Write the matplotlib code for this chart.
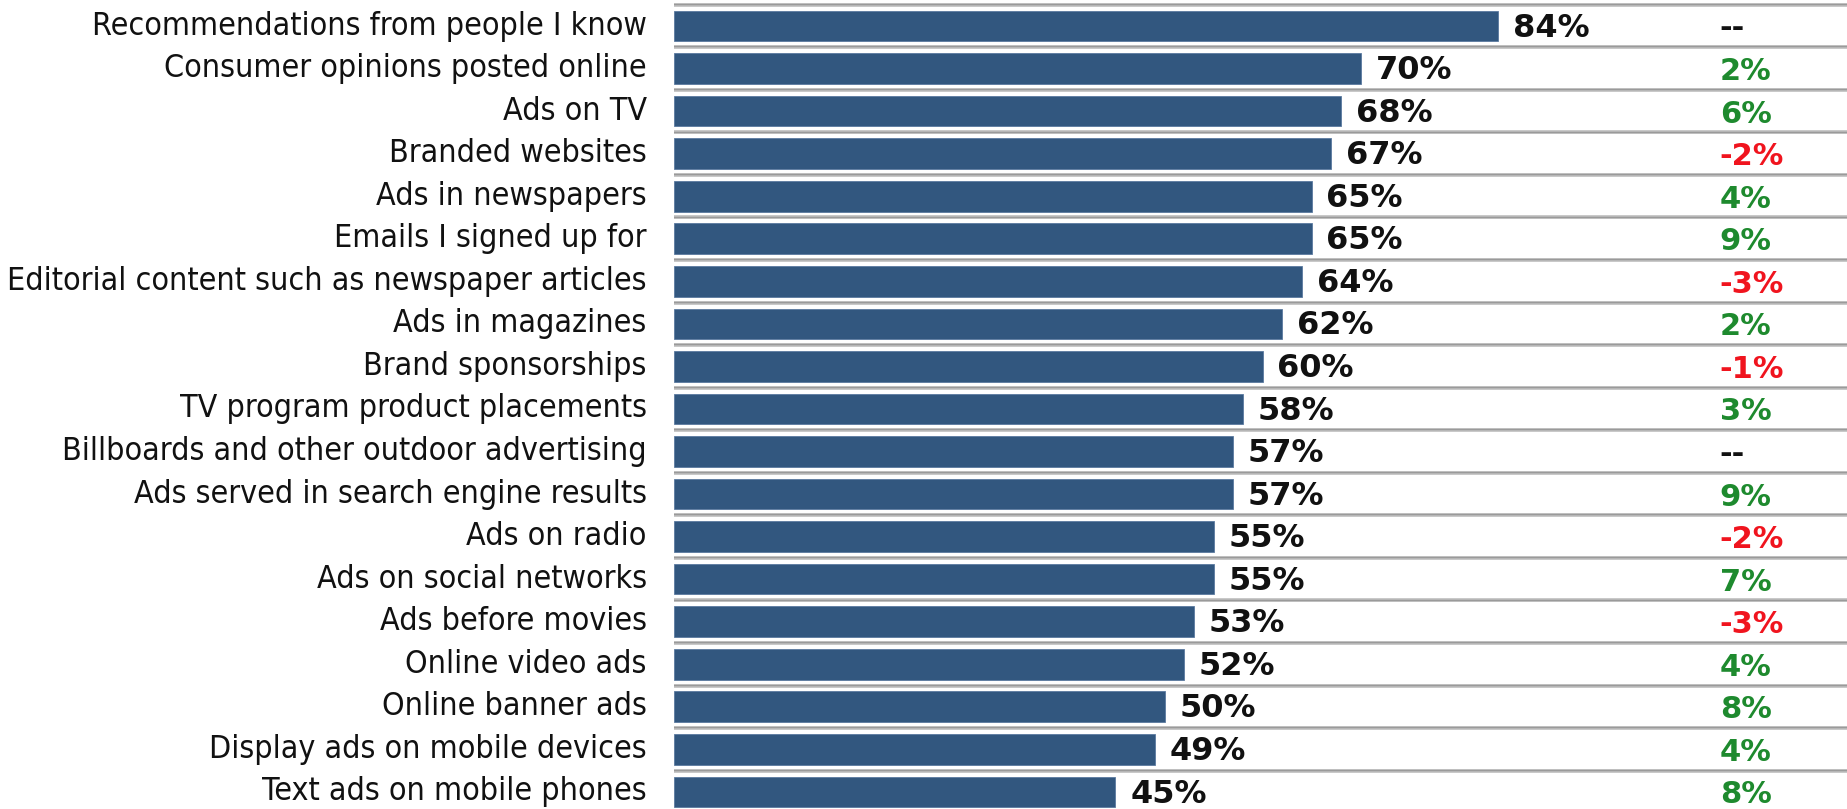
import matplotlib
matplotlib.use("Agg")
import matplotlib.pyplot as plt

categories = [
    "Recommendations from people I know",
    "Consumer opinions posted online",
    "Ads on TV",
    "Branded websites",
    "Ads in newspapers",
    "Emails I signed up for",
    "Editorial content such as newspaper articles",
    "Ads in magazines",
    "Brand sponsorships",
    "TV program product placements",
    "Billboards and other outdoor advertising",
    "Ads served in search engine results",
    "Ads on radio",
    "Ads on social networks",
    "Ads before movies",
    "Online video ads",
    "Online banner ads",
    "Display ads on mobile devices",
    "Text ads on mobile phones",
]
values = [84, 70, 68, 67, 65, 65, 64, 62, 60, 58, 57, 57, 55, 55, 53, 52, 50, 49, 45]
changes = [None, 2, 6, -2, 4, 9, -3, 2, -1, 3, None, 9, -2, 7, -3, 4, 8, 4, 8]

W, H = 1847, 809
fig = plt.figure(figsize=(W / 100, H / 100), dpi=100)
x0_px = 674
ax = fig.add_axes([x0_px / W, 0, 1 - x0_px / W, 1])
px_per_unit = 9.81
ax.set_xlim(0, (W - x0_px) / px_per_unit)
row0, spacing = 26.0, 42.55
ax.set_ylim((H - row0) / spacing, -row0 / spacing)
ax.axis("off")

bar_color = "#32577f"
n = len(categories)
ys = list(range(n))
ax.barh(ys, values, height=0.72, color=bar_color, edgecolor="#5a7aa0", linewidth=0.6, zorder=3)

# row separators
for i in range(n):
    y = i - 0.5
    ax.axhline(y, color="#bdbdbd", lw=2.6, zorder=1)
    ax.axhline(y - 0.02, color="#9a9a9a", lw=1.0, zorder=2)

# value labels
for y, v in zip(ys, values):
    ax.text(v + 1.5, y + 0.05, f"{v}%", ha="left", va="center", fontsize=23,
            fontweight="bold", color="#111111", family="DejaVu Sans", zorder=4)

# change column
green, red = "#1e8a2e", "#f0141e"
for y, c in zip(ys, changes):
    if c is None:
        txt, col = "--", "#111111"
    else:
        txt = f"{c}%"
        col = green if c >= 0 else red
    ax.text(106.6, y + 0.07, txt, ha="left", va="center", fontsize=22,
            fontweight="bold", color=col, family="DejaVu Sans", zorder=4)

# category labels (right aligned left of the bars)
label_x = 549 * W / 1568
texts = []
for y, c in zip(ys, categories):
    t = fig.text(label_x / W, 1 - (row0 + y * spacing) / H, c, ha="right", va="center",
                 fontsize=20, family="DejaVu Sans", fontstretch="condensed", color="#111111")
    texts.append(t)

# scale the label font so the longest label matches the reference width
fig.canvas.draw()
r = fig.canvas.get_renderer()
longest = texts[6]
w = longest.get_window_extent(r).width
target = 637.0
scale = target / w
for t in texts:
    t.set_fontsize(20 * scale)

fig.savefig("out.png", dpi=100, facecolor="white")
